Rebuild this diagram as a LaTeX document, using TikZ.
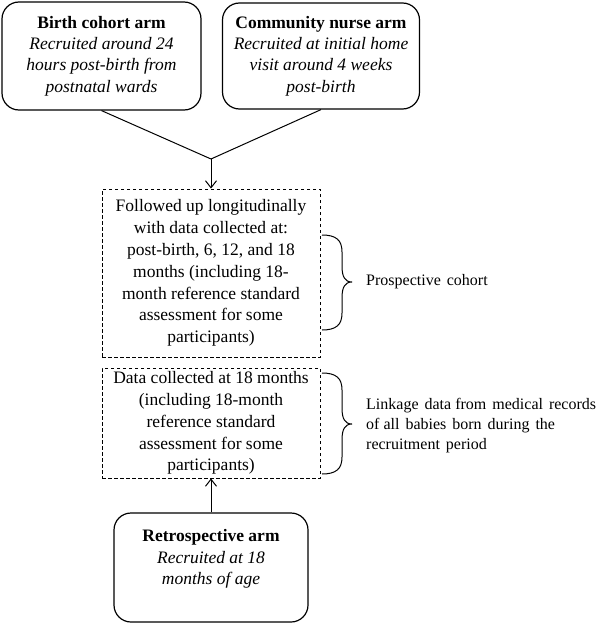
\documentclass[tikz,border=0pt]{standalone}
\usepackage{fontspec}
\setmainfont{Liberation Serif}
\usetikzlibrary{arrows.meta,calc}
\newcommand{\wsp}{\hspace{6pt}}
\begin{document}
\begin{tikzpicture}[x=1pt,y=-1pt,
  armbox/.style={draw,line width=1.2pt,rounded corners=17pt,inner sep=0pt,align=center,
    font=\fontsize{17.5}{21.3}\selectfont},
  dbox/.style={draw,line width=0.9pt,dash pattern=on 3.5pt off 2.5pt,inner sep=0pt,
    minimum width=218pt,align=center,font=\fontsize{17.5}{21.8}\selectfont},
  lbl/.style={anchor=west,inner sep=0pt,align=left,font=\fontsize{16}{20}\selectfont},
  conn/.style={line width=1pt},
  arr/.style={line width=1pt,-{Straight Barb[length=7pt,width=11pt]}},
  brc/.style={line width=1pt}]
\useasboundingbox (0,0) rectangle (600,623);

\node[armbox,minimum width=199pt,minimum height=108pt] (birth) at (101.5,56)
  {\textbf{Birth cohort arm}\\ \textit{Recruited around 24}\\ \textit{hours post-birth from}\\ \textit{postnatal wards}};
\node[armbox,minimum width=197pt,minimum height=106pt] (nurse) at (321,56)
  {\textbf{Community nurse arm}\\ \textit{Recruited at initial home}\\ \textit{visit around 4 weeks}\\ \textit{post-birth}};

\node[dbox,minimum height=168pt] (follow) at (211,273)
  {Followed up longitudinally\\ with data collected at:\\ post-birth, 6, 12, and 18\\ months (including 18-\\ month reference standard\\ assessment for some\\ participants)};
\node[dbox,minimum height=110pt] (data18) at (211,423)
  {Data collected at 18 months\\ (including 18-month\\ reference standard\\ assessment for some\\ participants)};

\node[armbox,minimum width=194pt,minimum height=109pt] (retro) at (211,567.5) {};
\node[inner sep=0pt,align=center,font=\fontsize{17.5}{21.3}\selectfont] (retrotext) at (211,559)
  {\textbf{Retrospective arm}\\ \textit{Recruited at 18}\\ \textit{months of age}};

\coordinate (join) at (211,159);
\draw[conn] (birth.south) -- (join);
\draw[conn] (nurse.south) -- (join);
\draw[arr] (join) -- (follow.north);
\draw[arr] (retro.north) -- (data18.south);

% braces
\draw[brc] (322,235) .. controls (336,235) and (342,240) .. (342,252) -- (342,266)
  .. controls (342,277) and (345,282) .. (352,282)
  .. controls (345,282) and (342,287) .. (342,298) -- (342,313)
  .. controls (342,325) and (336,330) .. (322,330);
\draw[brc] (322,373) .. controls (336,373) and (342,378) .. (342,390) -- (342,408)
  .. controls (342,419) and (345,424) .. (352,424)
  .. controls (345,424) and (342,429) .. (342,440) -- (342,457)
  .. controls (342,469) and (336,474) .. (322,474);

\node[lbl] (prosp) at (366,282) {Prospective\wsp cohort};
\node[lbl] (link) at (366,426) {Linkage\wsp data from\wsp medical\wsp records\\ of all\wsp babies\wsp born\wsp during\wsp the\\ recruitment\wsp period};
\end{tikzpicture}
\end{document}
